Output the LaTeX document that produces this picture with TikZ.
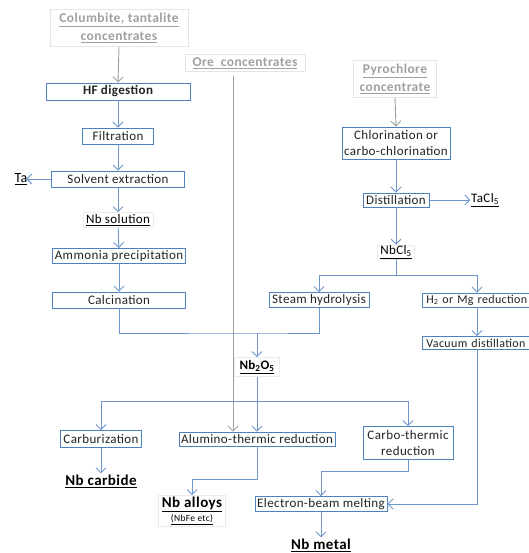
\documentclass[tikz,border=0pt]{standalone}
\usepackage{fontspec}
\setmainfont{Carlito}
\newfontfamily\boxfont[LetterSpace=3]{Carlito}
\usepackage{tikz}
\usetikzlibrary{arrows.meta}
\definecolor{boxblue}{RGB}{79,129,189}
\definecolor{linkblue}{RGB}{110,150,205}
\definecolor{feedgray}{RGB}{160,160,160}
\definecolor{txtgray}{RGB}{35,35,35}

\begin{document}
\begin{tikzpicture}[x=1pt,y=-1pt,
		procbox/.style={draw=boxblue,line width=0.9pt,fill=white,text=txtgray,font=\boxfont\fontsize{13}{14}\selectfont,inner sep=0.5pt,align=center},
		feedbox/.style={draw=black!10,line width=0.6pt,text=feedgray,font=\boxfont\fontsize{13.5}{18}\selectfont\bfseries,inner sep=0.5pt,align=center},
		prodbox/.style={draw=black!8,line width=0.6pt,text=black,font=\boxfont\fontsize{13}{14}\selectfont,inner sep=0.5pt,align=center},
		endprod/.style={text=black,font=\boxfont\fontsize{15}{16}\selectfont\bfseries,inner sep=1pt,align=center},
		link/.style={draw=linkblue,line width=0.9pt},
		linkarr/.style={link,-{Straight Barb[length=5pt,width=10pt]}},
		feedarr/.style={draw=feedgray,line width=0.9pt,-{Straight Barb[length=5pt,width=10pt]}}]
		\useasboundingbox (0,0) rectangle (528,553);
		\node[feedbox,minimum width=138,minimum height=37] (colum) at (119,28) {\underline{Columbite, tantalite}\\\underline{concentrates}};
		\node[feedbox,minimum width=120,minimum height=17] (ore) at (245,63) {\underline{Ore\ \ concentrates}};
		\node[feedbox,minimum width=83,minimum height=37] (pyro) at (395,79) {\underline{Pyrochlore}\\\underline{concentrate}};
		\node[procbox,minimum width=144,minimum height=17,font=\boxfont\fontsize{13}{14}\selectfont\bfseries] (hf) at (118,91.5) {HF digestion};
		\node[procbox,minimum width=71,minimum height=16] (filt) at (118,136) {Filtration};
		\node[procbox,minimum width=133,minimum height=16] (solv) at (118,179) {Solvent extraction};
		\node[prodbox,draw=none,font=\boxfont\fontsize{14}{15}\selectfont] (ta) at (21,179) {\underline{Ta}};
		\node[prodbox,minimum width=70,minimum height=15] (nbsol) at (118,220) {\underline{Nb solution}};
		\node[procbox,minimum width=133,minimum height=15] (ammo) at (119,256) {Ammonia precipitation};
		\node[procbox,minimum width=133,minimum height=16] (calc) at (119,300) {Calcination};
		\node[procbox,minimum width=108,minimum height=32,font=\boxfont\fontsize{13}{16}\selectfont] (chlor) at (396,143) {Chlorination or\\carbo-chlorination};
		\node[procbox,minimum width=66,minimum height=14] (dist) at (396,200) {Distillation};
		\node[prodbox,draw=none] (tacl) at (485,200) {\underline{TaCl\textsubscript{5}}};
		\node[prodbox,minimum width=37,minimum height=13] (nbcl) at (396,252) {\underline{NbCl\textsubscript{5}}};
		\node[procbox,minimum width=100,minimum height=15] (steam) at (319,300) {Steam hydrolysis};
		\node[procbox,minimum width=112,minimum height=14,anchor=west,font=\boxfont\fontsize{12}{13}\selectfont,text width=104,align=left] (htwo) at (422,300) {H\textsubscript{2} or Mg reduction};
		\node[procbox,minimum width=112,minimum height=13,anchor=west,font=\boxfont\fontsize{12}{13}\selectfont,text width=104,align=left] (vac) at (422,343) {Vacuum distillation};
		\coordinate (rcol) at (477,0);
		\node[prodbox,minimum width=45,minimum height=19,font=\boxfont\fontsize{13}{14}\selectfont\bfseries] (nbox) at (257,367) {\underline{Nb\textsubscript{2}O\textsubscript{5}}};
		\node[procbox,minimum width=81,minimum height=17] (carbur) at (101,439) {Carburization};
		\node[procbox,minimum width=156,minimum height=14] (alumino) at (257,439) {Alumino-thermic reduction};
		\node[procbox,minimum width=90,minimum height=33,font=\boxfont\fontsize{13}{16}\selectfont] (carbo) at (408,443) {Carbo-thermic\\reduction};
		\node[endprod] (nbcarb) at (101,481) {\underline{Nb carbide}};
		\node[prodbox,minimum width=67,minimum height=31,font=\boxfont\fontsize{15}{18}\selectfont\bfseries] (alloys) at (192,511) {\underline{Nb alloys}\\[-4pt]{\fontsize{9.5}{10}\selectfont\mdseries\underline{(NbFe etc)}}};
		\node[procbox,minimum width=132,minimum height=15] (ebm) at (321,504) {Electron-beam melting};
		\node[endprod] (nbmetal) at (321,545) {\underline{Nb metal}};
		\coordinate (mid1) at (257,333);
		\coordinate (mid2) at (257,401);
		\coordinate (mid3) at (396,275);
		\draw[feedarr] (colum.south) -- (hf.north);
		\draw[feedarr] (pyro.south) -- (chlor.north);
		\draw[feedarr] ([xshift=-12pt,yshift=-4pt]ore.south) -- ([xshift=-24pt]alumino.north);
		\draw[linkarr] (hf) -- (filt);
		\draw[linkarr] (filt) -- (solv);
		\draw[linkarr] (solv.west) -- ([xshift=-2pt]ta.east);
		\draw[linkarr] (solv) -- (nbsol);
		\draw[linkarr] (nbsol) -- (ammo);
		\draw[linkarr] (ammo) -- (calc);
		\draw[link] (calc.south) |- (mid1) -| (steam.south);
		\draw[linkarr] (mid1) -- (nbox.north);
		\draw[linkarr] (chlor) -- (dist);
		\draw[linkarr] (dist.east) -- (tacl.west);
		\draw[linkarr] (dist) -- (nbcl);
		\draw[link] (nbcl.south) -- (mid3);
		\draw[linkarr] (mid3) -| (htwo.north -| rcol);
		\draw[linkarr] (mid3) -| (steam.north);
		\draw[linkarr] (htwo.south -| rcol) -- (vac.north -| rcol);
		\draw[linkarr] (vac.south -| rcol) |- (ebm.east);
		\draw[link] (nbox.south) -- (mid2);
		\draw[linkarr] (mid2) -- (alumino.north);
		\draw[linkarr] (mid2) -| (carbur.north);
		\draw[linkarr] (mid2) -| (carbo.north);
		\draw[linkarr] (carbur) -- (nbcarb);
		\draw[linkarr] (alumino.south) -- ++(0,33) -| (alloys.north);
		\draw[linkarr] (carbo.south) -- ++(0,11) -| (ebm.north);
		\draw[linkarr] (ebm) -- (nbmetal);
	\end{tikzpicture}
\end{document}
